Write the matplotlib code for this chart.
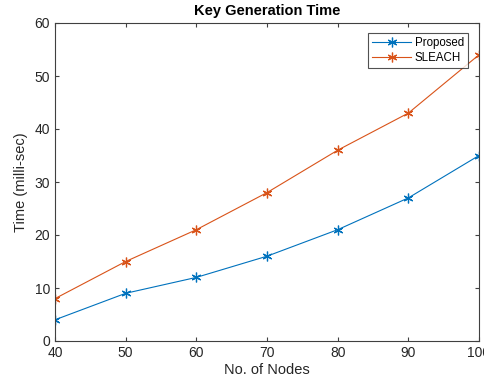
import matplotlib
matplotlib.use("Agg")
import matplotlib.pyplot as plt

nodes = [40, 50, 60, 70, 80, 90, 100]
proposed = [4, 9, 12, 16, 21, 27, 35]
sleach = [8, 15, 21, 28, 36, 43, 54]
xticks = [40, 50, 60, 70, 80, 90, 100]
yticks = [0, 10, 20, 30, 40, 50, 60]

plt.rcParams['font.family'] = ['Liberation Sans', 'DejaVu Sans']

fig = plt.figure(figsize=(4.84, 3.81), dpi=100)
ax = fig.add_axes([55/484, 40/381, (479-55)/484, (341-23)/381])

star = (6, 2, 0)
ax.plot(nodes, proposed, color='#0072BD', marker=star, markersize=7, markeredgewidth=0.9,
        linewidth=0.8, label='Proposed')
ax.plot(nodes, sleach, color='#D95319', marker=star, markersize=7, markeredgewidth=0.9,
        linewidth=0.8, label='SLEACH')

ax.set_xlim(40, 100)
ax.set_ylim(0, 60)
ax.set_xticks(xticks)
ax.set_yticks(yticks)
ax.tick_params(direction='in', length=3, width=0.8, colors='#404040', labelsize=10,
               labelcolor='#262626', top=True, right=True, labeltop=False, labelright=False)
for s in ax.spines.values():
    s.set_color('#404040')
    s.set_linewidth(0.8)

ax.set_xlabel('No. of Nodes', fontsize=10.5, color='#262626', labelpad=2)
ax.set_ylabel('Time (milli-sec)', fontsize=10.5, color='#262626', labelpad=5)
ax.set_title('Key Generation Time', fontsize=10.5, fontweight='bold', pad=6)

leg = ax.legend(loc='upper right', fontsize=8.3, frameon=True, fancybox=False,
                edgecolor='#262626', borderpad=0.35, handlelength=3.4, handletextpad=0.3,
                labelspacing=0.25, borderaxespad=0,
                bbox_to_anchor=((468-55)/424, (341-33)/318))
leg.get_frame().set_linewidth(0.8)

fig.savefig('out.png', dpi=100)
